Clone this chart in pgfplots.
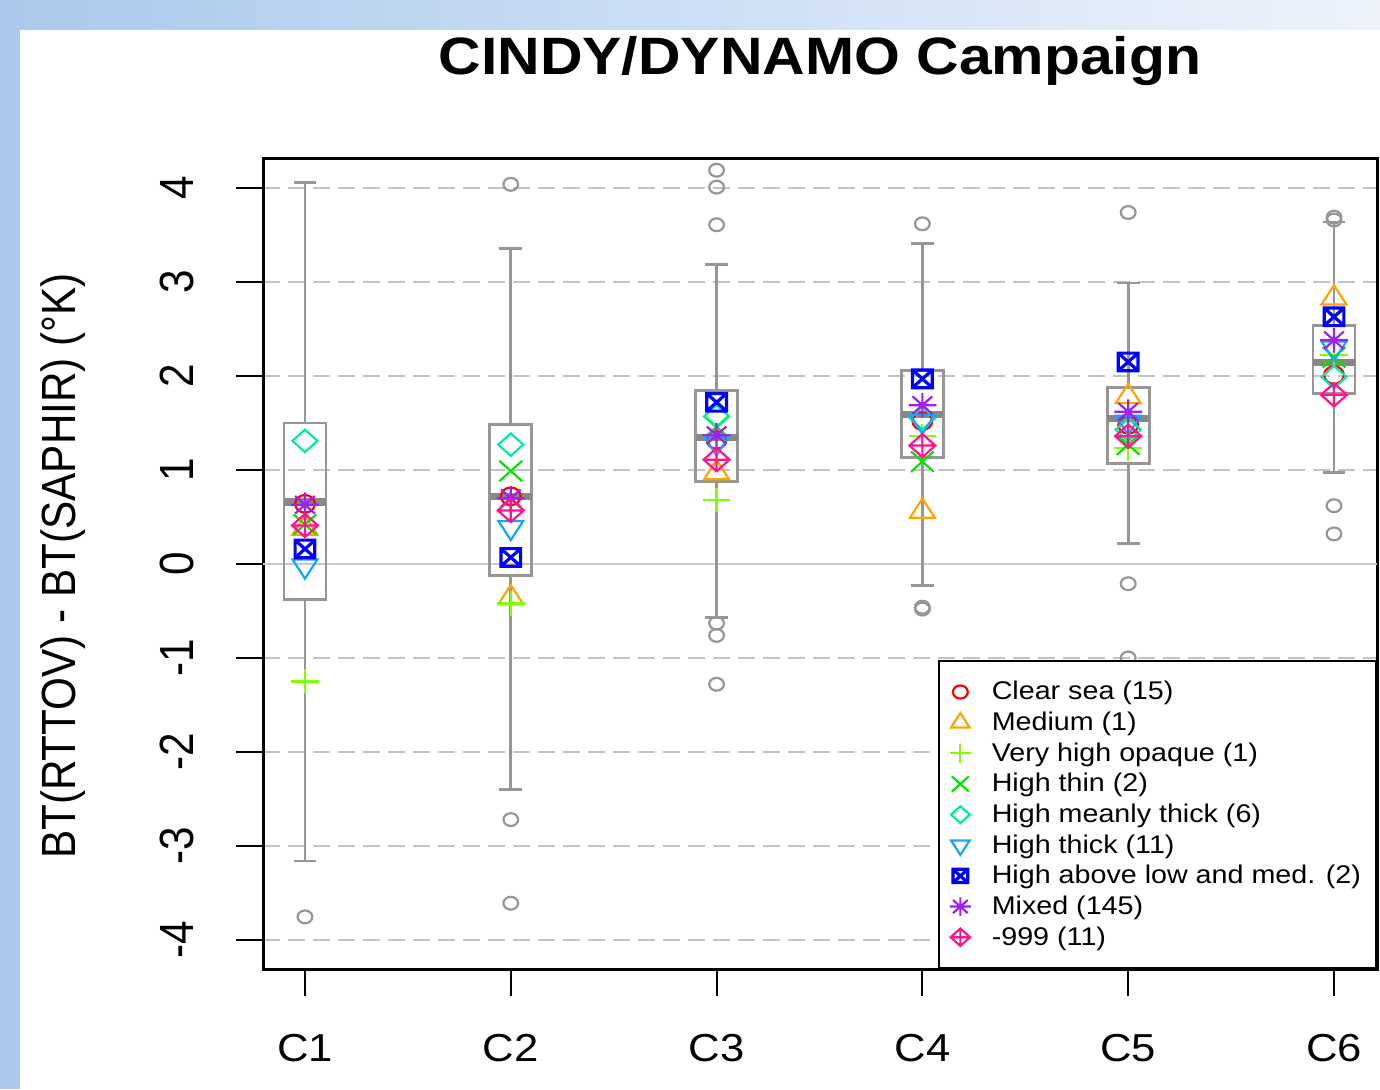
\documentclass[border=0pt]{standalone}
\usepackage{fontspec}
\setmainfont{Liberation Sans}[FakeStretch=1.12]
\newfontfamily\rotfont{Liberation Sans}[FakeStretch=0.88]
\usepackage{pgfplots}
\pgfplotsset{compat=1.18}
\usepgfplotslibrary{statistics}

\definecolor{bandblue}{RGB}{170,201,236}
\definecolor{bandlight}{RGB}{238,243,251}
\definecolor{boxgray}{RGB}{150,150,150}
\definecolor{medgray}{RGB}{135,135,135}
\definecolor{gridgray}{RGB}{195,195,195}
\definecolor{zerogray}{RGB}{200,200,200}
\definecolor{cClear}{RGB}{255,0,0}
\definecolor{cMedium}{RGB}{255,165,0}
\definecolor{cVHO}{RGB}{127,255,0}
\definecolor{cThin}{RGB}{0,230,0}
\definecolor{cMeanly}{RGB}{0,235,170}
\definecolor{cThick}{RGB}{20,165,255}
\definecolor{cAbove}{RGB}{0,0,255}
\definecolor{cMixed}{RGB}{160,32,240}
\definecolor{cNeg}{RGB}{255,20,147}

\pgfdeclareplotmark{boxx}{%
  \pgfpathrectangle{\pgfqpoint{-\pgfplotmarksize}{-\pgfplotmarksize}}{\pgfqpoint{2\pgfplotmarksize}{2\pgfplotmarksize}}%
  \pgfpathmoveto{\pgfqpoint{-\pgfplotmarksize}{-\pgfplotmarksize}}%
  \pgfpathlineto{\pgfqpoint{\pgfplotmarksize}{\pgfplotmarksize}}%
  \pgfpathmoveto{\pgfqpoint{-\pgfplotmarksize}{\pgfplotmarksize}}%
  \pgfpathlineto{\pgfqpoint{\pgfplotmarksize}{-\pgfplotmarksize}}%
  \pgfusepathqstroke}
\pgfdeclareplotmark{star8}{%
  \pgfpathmoveto{\pgfqpoint{-\pgfplotmarksize}{0pt}}\pgfpathlineto{\pgfqpoint{\pgfplotmarksize}{0pt}}%
  \pgfpathmoveto{\pgfqpoint{0pt}{-\pgfplotmarksize}}\pgfpathlineto{\pgfqpoint{0pt}{\pgfplotmarksize}}%
  \pgfpathmoveto{\pgfqpoint{-.7071\pgfplotmarksize}{-.7071\pgfplotmarksize}}\pgfpathlineto{\pgfqpoint{.7071\pgfplotmarksize}{.7071\pgfplotmarksize}}%
  \pgfpathmoveto{\pgfqpoint{-.7071\pgfplotmarksize}{.7071\pgfplotmarksize}}\pgfpathlineto{\pgfqpoint{.7071\pgfplotmarksize}{-.7071\pgfplotmarksize}}%
  \pgfusepathqstroke}
\pgfdeclareplotmark{rdiamond}{%
  \pgfpathmoveto{\pgfqpoint{0pt}{\pgfplotmarksize}}%
  \pgfpathlineto{\pgfqpoint{\pgfplotmarksize}{0pt}}%
  \pgfpathlineto{\pgfqpoint{0pt}{-\pgfplotmarksize}}%
  \pgfpathlineto{\pgfqpoint{-\pgfplotmarksize}{0pt}}%
  \pgfpathclose
  \pgfusepathqstroke}
\pgfdeclareplotmark{diamondplus}{%
  \pgfpathmoveto{\pgfqpoint{0pt}{\pgfplotmarksize}}%
  \pgfpathlineto{\pgfqpoint{\pgfplotmarksize}{0pt}}%
  \pgfpathlineto{\pgfqpoint{0pt}{-\pgfplotmarksize}}%
  \pgfpathlineto{\pgfqpoint{-\pgfplotmarksize}{0pt}}%
  \pgfpathclose
  \pgfpathmoveto{\pgfqpoint{-\pgfplotmarksize}{0pt}}\pgfpathlineto{\pgfqpoint{\pgfplotmarksize}{0pt}}%
  \pgfpathmoveto{\pgfqpoint{0pt}{-\pgfplotmarksize}}\pgfpathlineto{\pgfqpoint{0pt}{\pgfplotmarksize}}%
  \pgfusepathqstroke}

\pgfplotsset{
  mybox/.style={forget plot, draw=boxgray, line width=1.4pt,
    mark=o, mark size=3.2pt, mark options={draw=boxgray, line width=1.1pt, xscale=1.15},
    boxplot/draw direction=y,
    boxplot/box extend=0.204, boxplot/whisker extend=0.11,
    boxplot/every median/.style={draw=medgray, line width=3.6pt}},
  cat/.style={only marks, line width=1.1pt, draw=#1, mark options={draw=#1, fill=none, solid, xscale=1.12}},
}

\begin{document}
\begin{tikzpicture}
\useasboundingbox (0,0) rectangle (690pt,544.5pt);
\begin{scope}[x=0.5pt,y=0.5pt]
  \fill[white] (0,0) rectangle (1380,1089);
  \shade[left color=bandblue, right color=bandlight] (0,1059) rectangle (1380,1089);
  \fill[bandblue] (0,0) rectangle (20,1089);
  \node[anchor=base, font=\fontsize{26.3}{26}\selectfont\bfseries] at (820,1014) {CINDY/DYNAMO Campaign};
  \node[rotate=90, anchor=base, font=\rotfont\fontsize{24}{24}\selectfont] at (75,523) {BT(RTTOV) - BT(SAPHIR) (°K)};
\end{scope}

\begin{axis}[
  at={(131.5pt,60pt)}, anchor=south west, scale only axis,
  width=557pt, height=405.5pt,
  xmin=0.796, xmax=6.209, ymin=-4.31, ymax=4.32,
  axis line style={line width=1.5pt, black},
  xtick={1,2,3,4,5,6}, xticklabels={C1,C2,C3,C4,C5,C6},
  ytick={-4,-3,-2,-1,0,1,2,3,4}, yticklabels={-4,-3,-2,-1,0,1,2,3,4},
  tick align=outside, xtick pos=left, ytick pos=left,
  major tick length=13.5pt,
  tick style={black, line width=1pt},
  xticklabel style={font=\fontsize{19.5}{20}\selectfont, anchor=base, inner sep=0pt, yshift=-32.5pt},
  yticklabel style={font=\rotfont\fontsize{24}{24}\selectfont, inner sep=0pt, xshift=-21pt, rotate=90, anchor=base},
  ymajorgrids, grid style={dash pattern=on 8.5pt off 4pt, line width=1.3pt, gridgray},
  legend image code/.code={\draw[mark repeat=2,mark phase=2,#1] plot coordinates {(0pt,0pt) (9.5pt,0pt) (13pt,0pt)};},
  legend image post style={/tikz/every mark/.append style={scale=0.75}},
  legend style={at={(rel axis cs:1,0)}, anchor=south east, draw=black, line width=1pt, fill=white,
    font=\fontsize{12.8}{14}\selectfont, inner xsep=5.5pt, inner ysep=8pt, row sep=0.55pt,
    /tikz/every odd column/.append style={column sep=8.5pt}},
  legend cell align=left,
]
\draw[zerogray, line width=1.2pt] (axis cs:0.796,0) -- (axis cs:6.209,0);

\addplot[mybox, boxplot prepared={draw position=1, lower whisker=-3.16, lower quartile=-0.38, median=0.66, upper quartile=1.50, upper whisker=4.06}]
  table[row sep=\\, y index=0] {-3.755\\};
\addplot[mybox, boxplot prepared={draw position=2, lower whisker=-2.40, lower quartile=-0.12, median=0.72, upper quartile=1.48, upper whisker=3.36}]
  table[row sep=\\, y index=0] {4.04\\ -2.72\\ -3.61\\};
\addplot[mybox, boxplot prepared={draw position=3, lower whisker=-0.57, lower quartile=0.88, median=1.35, upper quartile=1.85, upper whisker=3.19}]
  table[row sep=\\, y index=0] {4.19\\ 4.01\\ 3.61\\ -0.63\\ -0.76\\ -1.28\\};
\addplot[mybox, boxplot prepared={draw position=4, lower whisker=-0.23, lower quartile=1.13, median=1.59, upper quartile=2.06, upper whisker=3.41}]
  table[row sep=\\, y index=0] {3.62\\ -0.46\\ -0.48\\};
\addplot[mybox, boxplot prepared={draw position=5, lower whisker=0.22, lower quartile=1.07, median=1.55, upper quartile=1.88, upper whisker=2.99}]
  table[row sep=\\, y index=0] {3.74\\ -0.21\\ -1.00\\};
\addplot[mybox, boxplot prepared={draw position=6, lower whisker=0.97, lower quartile=1.81, median=2.14, upper quartile=2.54, upper whisker=3.64}]
  table[row sep=\\, y index=0] {4.33\\ 3.69\\ 3.66\\ 0.62\\ 0.32\\};

\addplot[cat=cClear, mark=o, mark size=4.4pt] coordinates {(1,0.64) (2,0.72) (3,1.32) (4,1.52) (5,1.48) (6,2.01)};
\addlegendentry{Clear sea (15)}
\addplot[cat=cMedium, mark=triangle, mark size=6.4pt] coordinates {(1,0.38) (2,-0.36) (3,0.97) (4,0.56) (5,1.78) (6,2.83)};
\addlegendentry{Medium (1)}
\addplot[cat=cVHO, mark=+, mark size=6.2pt] coordinates {(1,-1.25) (2,-0.42) (3,0.68) (4,1.36) (5,1.23) (6,2.22)};
\addlegendentry{Very high opaque (1)}
\addplot[cat=cThin, mark=x, mark size=7.2pt] coordinates {(1,0.42) (2,0.99) (3,1.46) (4,1.09) (5,1.27) (6,2.20)};
\addlegendentry{High thin (2)}
\addplot[cat=cMeanly, mark=rdiamond, mark size=5.6pt] coordinates {(1,1.31) (2,1.27) (3,1.57) (4,1.55) (5,1.43) (6,1.99)};
\addlegendentry{High meanly thick (6)}
\addplot[cat=cThick, mark=triangle, mark size=6.4pt, mark options={draw=cThick, rotate=180, xscale=1.12}] coordinates {(1,-0.02) (2,0.39) (3,1.29) (4,1.52) (5,1.51) (6,2.30)};
\addlegendentry{High thick (11)}
\addplot[cat=cAbove, mark=boxx, mark size=4.4pt, line width=1.6pt] coordinates {(1,0.16) (2,0.07) (3,1.72) (4,1.97) (5,2.15) (6,2.63)};
\addlegendentry{High above low and med. (2)}
\addplot[cat=cMixed, mark=star8, mark size=6.2pt] coordinates {(1,0.63) (2,0.70) (3,1.37) (4,1.69) (5,1.62) (6,2.38)};
\addlegendentry{Mixed (145)}
\addplot[cat=cNeg, mark=diamondplus, mark size=5.8pt] coordinates {(1,0.41) (2,0.57) (3,1.11) (4,1.26) (5,1.36) (6,1.80)};
\addlegendentry{-999 (11)}
\end{axis}
\end{tikzpicture}
\end{document}
